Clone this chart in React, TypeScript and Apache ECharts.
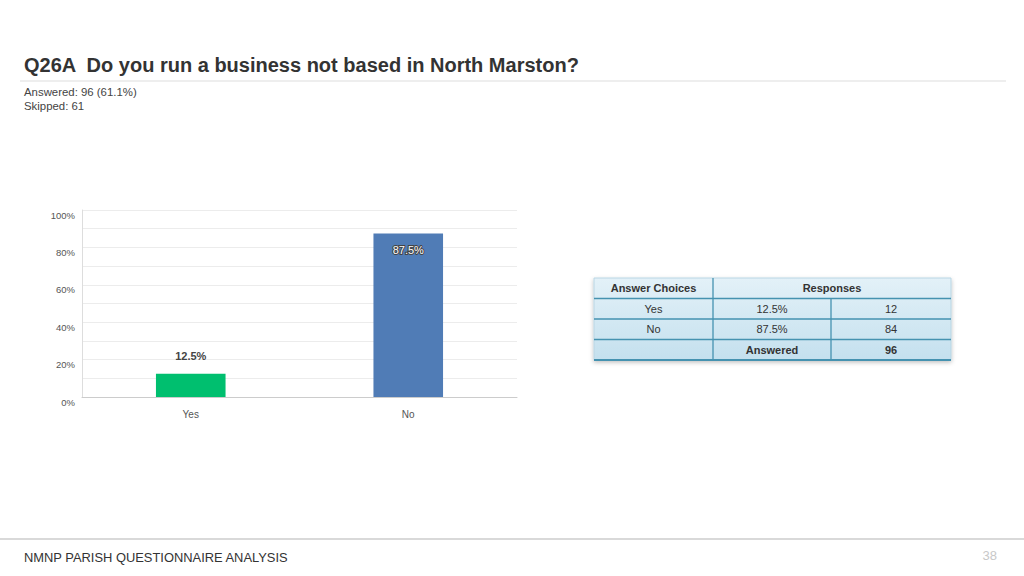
import React, { useEffect, useRef } from "react";
import * as echarts from "echarts";

const categories = ["Yes", "No"];
const percents = [12.5, 87.5];
const counts = [12, 84];
const answered = 96;
const skipped = 61;
const answeredPct = "61.1%";
const barColors = ["#00BF6F", "#507CB6"];
const yTicks = [0, 20, 40, 60, 80, 100];

const FONT = "Liberation Sans, Arial, Helvetica, sans-serif";

export default function App() {
  const ref = useRef<HTMLDivElement>(null);
  useEffect(() => {
    if (!ref.current) return;
    const chart = echarts.init(ref.current, null, { renderer: "svg" });

    // table geometry
    const tx = 594, ty = 278;
    const cw = [119, 118, 120];
    const rh = 20.5;
    const tw = cw[0] + cw[1] + cw[2];
    const th = rh * 4;
    const border = "#4592B0";
    const cx = [tx, tx + cw[0], tx + cw[0] + cw[1], tx + tw];
    const textStyle = (x: number, y: number, t: string, bold = false) => ({
      type: "text",
      x,
      y,
      style: {
        text: t,
        fill: "#333",
        font: `${bold ? "bold " : ""}11px ${FONT}`,
        align: "center",
        verticalAlign: "middle",
      },
    });
    const tableEls: any[] = [
      {
        type: "rect",
        shape: { x: tx, y: ty, width: tw, height: th },
        style: {
          fill: new echarts.graphic.LinearGradient(0, 0, 0, 1, [
            { offset: 0, color: "#e3f1f8" },
            { offset: 1, color: "#c4e0ee" },
          ]),
          stroke: "#b9d6e4",
          lineWidth: 1,
          shadowBlur: 4,
          shadowOffsetY: 2,
          shadowColor: "rgba(0,0,0,0.25)",
        },
      },
    ];
    for (let r = 1; r < 4; r++) {
      tableEls.push({
        type: "line",
        shape: { x1: tx, y1: ty + r * rh, x2: tx + tw, y2: ty + r * rh },
        style: { stroke: border, lineWidth: 1.3 },
      });
    }
    tableEls.push({
      type: "line",
      shape: { x1: cx[1], y1: ty, x2: cx[1], y2: ty + th },
      style: { stroke: border, lineWidth: 1.3 },
    });
    tableEls.push({
      type: "line",
      shape: { x1: cx[2], y1: ty + rh, x2: cx[2], y2: ty + th },
      style: { stroke: border, lineWidth: 1.3 },
    });
    tableEls.push({
      type: "line",
      shape: { x1: tx, y1: ty + th, x2: tx + tw, y2: ty + th },
      style: { stroke: border, lineWidth: 2 },
    });
    const mid = (i: number) => (cx[i] + cx[i + 1]) / 2;
    const rowY = (r: number) => ty + r * rh + rh / 2;
    tableEls.push(textStyle(mid(0), rowY(0), "Answer Choices", true));
    tableEls.push(textStyle((cx[1] + cx[3]) / 2, rowY(0), "Responses", true));
    categories.forEach((c, i) => {
      tableEls.push(textStyle(mid(0), rowY(i + 1), c));
      tableEls.push(textStyle(mid(1), rowY(i + 1), percents[i].toFixed(1) + "%"));
      tableEls.push(textStyle(mid(2), rowY(i + 1), String(counts[i])));
    });
    tableEls.push(textStyle(mid(1), rowY(3), "Answered", true));
    tableEls.push(textStyle(mid(2), rowY(3), String(answered), true));

    chart.setOption({
      animation: false,
      backgroundColor: "#ffffff",
      grid: { left: 82, right: 507, top: 210, bottom: 179, containLabel: false },
      xAxis: {
        type: "category",
        data: categories,
        axisLine: { show: true, lineStyle: { color: "#cccccc" } },
        axisTick: { show: false },
        axisLabel: { color: "#555", fontSize: 10, fontFamily: FONT, margin: 12 },
      },
      yAxis: {
        type: "value",
        min: 0,
        max: 100,
        interval: 10,
        axisLine: { show: true, lineStyle: { color: "#dddddd" } },
        axisTick: { show: false },
        splitLine: { lineStyle: { color: "#ececec" } },
        axisLabel: {
          color: "#555",
          fontSize: 9.5,
          fontFamily: FONT,
          margin: 7,
          verticalAlign: "top",
          formatter: (v: number) => (yTicks.includes(v) ? v + "%" : ""),
        },
      },
      series: [
        {
          type: "bar",
          barWidth: "32%",
          data: percents.map((v, i) => ({
            value: v,
            itemStyle: { color: barColors[i] },
            label:
              i === 0
                ? {
                    show: true,
                    position: "top",
                    distance: 12,
                    color: "#444",
                    fontSize: 11,
                    fontWeight: "bold",
                    fontFamily: FONT,
                  }
                : {
                    show: true,
                    position: "insideTop",
                    distance: 11,
                    color: "#ffffff",
                    textBorderColor: "#444",
                    textBorderWidth: 2,
                    fontSize: 11,
                    fontFamily: FONT,
                  },
          })),
          label: { formatter: (p: any) => p.value + "%" },
        },
      ],
      graphic: [
        {
          type: "text",
          x: 24,
          y: 65,
          style: {
            text: "Q26A  Do you run a business not based in North Marston?",
            fill: "#333",
            font: `bold 20px ${FONT}`,
            verticalAlign: "middle",
          },
        },
        {
          type: "line",
          shape: { x1: 20, y1: 81, x2: 1006, y2: 81 },
          style: { stroke: "#dddddd", lineWidth: 1 },
        },
        {
          type: "text",
          x: 24,
          y: 92,
          style: {
            text: `Answered: ${answered} (${answeredPct})`,
            fill: "#444",
            font: `11.4px ${FONT}`,
            verticalAlign: "middle",
          },
        },
        {
          type: "text",
          x: 24,
          y: 106,
          style: {
            text: `Skipped: ${skipped}`,
            fill: "#444",
            font: `11.4px ${FONT}`,
            verticalAlign: "middle",
          },
        },
        ...tableEls,
        {
          type: "line",
          shape: { x1: 0, y1: 539, x2: 1024, y2: 539 },
          style: { stroke: "#d9d9d9", lineWidth: 2 },
        },
        {
          type: "text",
          x: 24,
          y: 557,
          style: {
            text: "NMNP PARISH QUESTIONNAIRE ANALYSIS",
            fill: "#333",
            font: `12.9px ${FONT}`,
            verticalAlign: "middle",
          },
        },
        {
          type: "text",
          x: 997,
          y: 555,
          style: {
            text: "38",
            fill: "#c8c8c8",
            font: `13px ${FONT}`,
            align: "right",
            verticalAlign: "middle",
          },
        },
      ],
    });
    return () => chart.dispose();
  }, []);
  return (
    <div
      ref={ref}
      style={{ position: "absolute", left: 0, top: 0, width: 1024, height: 576, background: "#fff" }}
    />
  );
}
